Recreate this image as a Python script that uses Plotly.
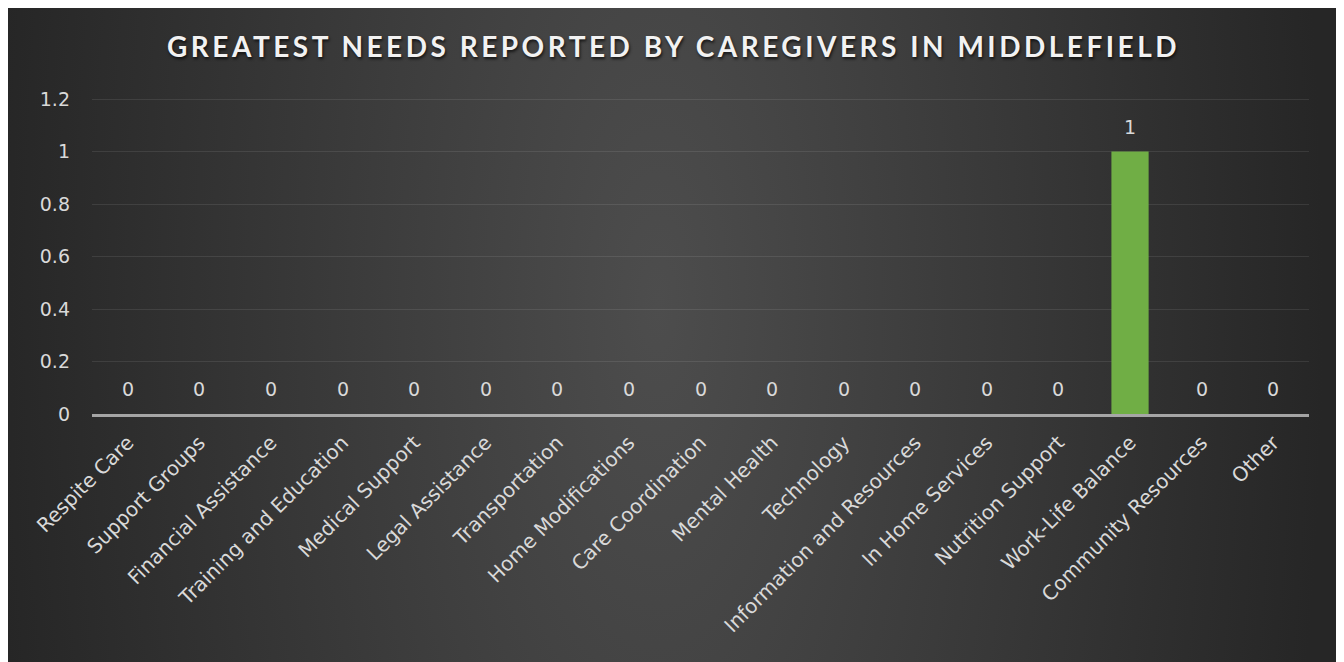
import base64
import plotly.graph_objects as go

# ---- data ----
categories = [
    "Respite Care", "Support Groups", "Financial Assistance", "Training and Education",
    "Medical Support", "Legal Assistance", "Transportation", "Home Modifications",
    "Care Coordination", "Mental Health", "Technology", "Information and Resources",
    "In Home Services", "Nutrition Support", "Work-Life Balance", "Community Resources",
    "Other",
]
values = [0, 0, 0, 0, 0, 0, 0, 0, 0, 0, 0, 0, 0, 0, 1, 0, 0]
y_ticks = [0, 0.2, 0.4, 0.6, 0.8, 1.0, 1.2]
y_tick_labels = ["0", "0.2", "0.4", "0.6", "0.8", "1", "1.2"]
title_text = "GREATEST NEEDS REPORTED BY CAREGIVERS IN MIDDLEFIELD"

# ---- layout geometry (page has an 8px body margin) ----
W, H = 1331, 654
PX_PER_UNIT = 262.5
EXTRA_TOP = 3  # px above the 1.2 gridline so it is not clipped
ML, MR, MT, MB = 84, 30, 91 - EXTRA_TOP, 248
PW, PH = W - ML - MR, H - MT - MB
Y_MAX = 1.2 + EXTRA_TOP / PX_PER_UNIT

TICK_FONT = "DejaVu Sans"
TICK_COLOR = "#d9d9d9"

cx, cy = 650, 296
svg = (
    f'<svg xmlns="http://www.w3.org/2000/svg" width="{W}" height="{H}" '
    f'viewBox="0 0 {W} {H}" preserveAspectRatio="none"><defs>'
    f'<radialGradient id="g" cx="{cx}" cy="{cy}" r="{W/2}" gradientUnits="userSpaceOnUse" '
    f'gradientTransform="translate({cx} {cy}) scale(1 2.5) translate({-cx} {-cy})">'
    '<stop offset="0" stop-color="#4d4d4d"/><stop offset="1" stop-color="#262626"/>'
    '</radialGradient></defs>'
    f'<rect width="{W}" height="{H}" fill="url(#g)"/></svg>'
)
bg_src = "data:image/svg+xml;base64," + base64.b64encode(svg.encode()).decode()

fig = go.Figure()
fig.add_trace(go.Bar(
    x=categories, y=values,
    marker=dict(color="#70ae45", line=dict(width=0)),
    hoverinfo="x+y",
))

annotations = []
for c, v in zip(categories, values):
    annotations.append(dict(
        x=c, y=v, xref="x", yref="y", text=str(v), showarrow=False,
        yanchor="middle", yshift=25,
        font=dict(family=TICK_FONT, size=19, color=TICK_COLOR),
    ))

fig.update_layout(
    width=W, height=H,
    margin=dict(l=ML, r=MR, t=MT, b=MB, autoexpand=False),
    paper_bgcolor="#2a2a2a",
    plot_bgcolor="rgba(0,0,0,0)",
    bargap=0.48,
    showlegend=False,
    title=dict(
        text=f'<span style="letter-spacing:3.5px">{title_text}</span>',
        x=0.5, xref="container", xanchor="center",
        y=1 - 39 / H, yref="container", yanchor="middle",
        font=dict(family="Lato", size=28, color="#f2f2f2", weight="bold",
                  shadow="1px 2px 3px rgba(0,0,0,0.7)"),
    ),
    xaxis=dict(
        type="category",
        tickangle=-45,
        tickfont=dict(family=TICK_FONT, size=20, color=TICK_COLOR),
        showgrid=False, zeroline=False,
        showline=True, linecolor="rgba(205,205,205,0.75)", linewidth=3,
        ticks="", ticklabelstandoff=6,
    ),
    yaxis=dict(
        range=[0, Y_MAX],
        tickvals=y_ticks, ticktext=y_tick_labels,
        tickfont=dict(family=TICK_FONT, size=19, color=TICK_COLOR),
        showgrid=True, gridcolor="rgba(255,255,255,0.09)", gridwidth=1.3,
        zeroline=False, showline=False, ticks="", ticklabelstandoff=21,
    ),
    annotations=annotations,
    images=[dict(
        source=bg_src, xref="paper", yref="paper",
        x=-ML / PW, y=(H - MB) / PH,
        sizex=W / PW, sizey=H / PH,
        xanchor="left", yanchor="top", sizing="stretch", layer="below",
    )],
)

fig.write_html("out.html")
